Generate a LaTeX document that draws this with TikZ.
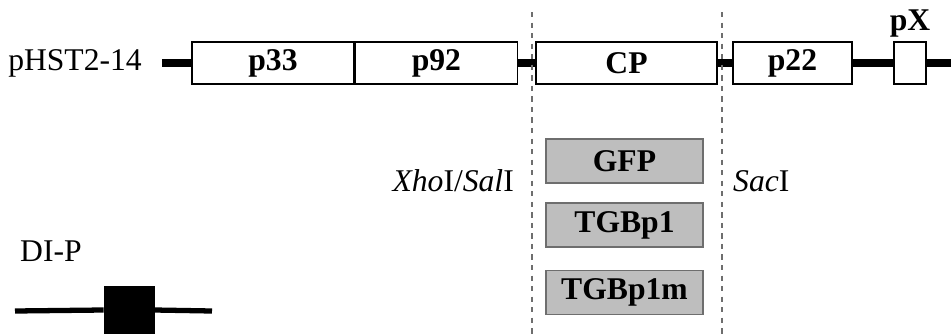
\documentclass[tikz,border=0pt]{standalone}
\usepackage{fontspec}
\setmainfont{Liberation Serif}
\usepackage{tikz}
\usetikzlibrary{positioning}
\definecolor{geneGray}{RGB}{190, 190, 190}
\definecolor{cutGray}{RGB}{110, 110, 110}

\begin{document}
\begin{tikzpicture}[x=0.02cm, y=-0.02cm,
  font=\fontsize{18}{20}\selectfont,
  orf/.style={draw, thick, fill=white, minimum height=0.84cm, inner sep=0pt, font=\fontsize{18}{20}\selectfont\bfseries},
  insert/.style={draw=cutGray, thick, fill=geneGray, minimum width=3.14cm, minimum height=0.88cm, inner sep=0pt, font=\fontsize{18}{20}\selectfont\bfseries},
  genome/.style={line width=4pt},
  site/.style={cutGray, dashed, thick}]
  \useasboundingbox (0,0) rectangle (951,335);
  % virus genome with its ORFs
  \node[orf, minimum width=3.24cm] (p33) at (273,63) {p33};
  \node[orf, minimum width=3.24cm, right=0pt of p33] (p92) {p92};
  \node[orf, minimum width=3.62cm] (cp) at (626.5,63) {CP};
  \node[orf, minimum width=2.38cm] (p22) at (792.5,63) {p22};
  \node[orf, minimum width=0.64cm] (px) at (910,63) {};
  \node[font=\fontsize{18}{20}\selectfont\bfseries, above=-1pt of px] (pxlab) {pX};
  \node[anchor=east] (name) at (148,63) {pHST2-14};
  \coordinate (gstart) at (162,63);
  \coordinate (gend) at (951,63);
  \draw[genome] (gstart) -- (p33.west);
  \draw[genome] (p92.east) -- (cp.west);
  \draw[genome] (cp.east) -- (p22.west);
  \draw[genome] (p22.east) -- (px.west);
  \draw[genome] (px.east) -- (gend);
  % cloning sites
  \coordinate (xtop) at (532,12);
  \coordinate (xbot) at (532,335);
  \coordinate (stop) at (722,12);
  \coordinate (sbot) at (722,335);
  \draw[site] (xtop) -- (xbot);
  \draw[site] (stop) -- (sbot);
  \node[anchor=east] (xho) at (520,181) {\textit{Xho}I/\textit{Sal}I};
  \node[anchor=west] (sac) at (727,181) {\textit{Sac}I};
  % inserted genes
  \node[insert] (gfp) at (624.5,161) {GFP};
  \node[insert] (tgb) at (624.5,225) {TGBp1};
  \node[insert] (tgbm) at (624.5,292.5) {TGBp1m};
  % defective interfering RNA
  \node[anchor=west] (dip) at (14,251) {DI-P};
  \node[draw, fill=black, minimum width=1cm, minimum height=0.94cm, inner sep=0pt] (dibox) at (129,310) {};
  \coordinate (dstart) at (15,311);
  \coordinate (dend) at (212,311);
  \draw[line width=3pt] (dstart) -- (dibox.west);
  \draw[line width=3pt] (dibox.east) -- (dend);
\end{tikzpicture}
\end{document}
